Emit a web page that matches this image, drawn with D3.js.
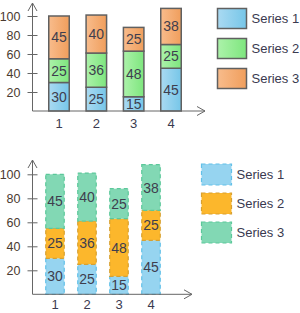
<!DOCTYPE html>
<html>
<head>
<meta charset="utf-8">
<script src="https://cdn.jsdelivr.net/npm/d3@7"></script>
<style>
  body { margin: 0; background: #fff; }
  text { font-family: "Liberation Sans", Arial, sans-serif; }
</style>
</head>
<body>
<div id="chart"></div>
<script>
// data
var categories = ["1", "2", "3", "4"];
var seriesNames = ["Series 1", "Series 2", "Series 3"];
var series1 = [30, 25, 15, 45];
var series2 = [25, 36, 48, 25];
var series3 = [45, 40, 25, 38];
var yTicks = [20, 40, 60, 80, 100];

var svg = d3.select("#chart").append("svg")
  .attr("width", 300)
  .attr("height", 313);

var defs = svg.append("defs");
function grad(id, c1, c2) {
  var g = defs.append("linearGradient").attr("id", id)
    .attr("x1", "0%").attr("x2", "100%").attr("y1", "0%").attr("y2", "0%");
  g.append("stop").attr("offset", "0%").attr("stop-color", c1);
  g.append("stop").attr("offset", "100%").attr("stop-color", c2);
}
grad("g1", "#aadaf2", "#76c6e8");
grad("g2", "#acf2aa", "#7ee67e");
grad("g3", "#f8bc8c", "#f09e5c");

var rows = categories.map(function(c, i) {
  return { cat: c, s1: series1[i], s2: series2[i], s3: series3[i] };
});
var stack = d3.stack().keys(["s1", "s2", "s3"])(rows);

// draws one of the two charts
function drawChart(opt) {
  var g = svg.append("g");
  var x = d3.scalePoint().domain(categories).range(opt.xRange);
  var y = d3.scaleLinear().domain([0, 100]).range(opt.yRange);

  // bars
  stack.forEach(function(layer, k) {
    g.selectAll(null).data(layer).enter().append("rect")
      .attr("x", function(d) { return x(d.data.cat) - opt.barW / 2; })
      .attr("y", function(d) { return y(d[1]); })
      .attr("width", opt.barW)
      .attr("height", function(d) { return y(d[0]) - y(d[1]); })
      .attr("fill", opt.fills[k])
      .attr("stroke", opt.strokes[k])
      .attr("stroke-width", opt.strokeW)
      .attr("stroke-dasharray", opt.dash);
    g.selectAll(null).data(layer).enter().append("text")
      .attr("x", function(d) { return x(d.data.cat); })
      .attr("y", function(d) { return (y(d[0]) + y(d[1])) / 2; })
      .attr("dy", "0.36em")
      .attr("text-anchor", "middle")
      .attr("font-size", 14)
      .attr("fill", "#3e3e4e")
      .text(function(d) { return d[1] - d[0]; });
  });

  // y axis
  var yAxis = d3.axisLeft(y).tickValues(yTicks).tickSize(5).tickPadding(7);
  var ya = g.append("g").attr("transform", "translate(" + opt.axisX + ",0)").call(yAxis);
  ya.select(".domain").remove();
  ya.selectAll(".tick line").attr("x1", 5).attr("x2", -5).attr("stroke", "#666");
  ya.selectAll(".tick text").attr("font-size", 12.5).attr("fill", "#4a3a30")
    .attr("font-family", "Liberation Sans, Arial, sans-serif");

  g.append("line").attr("x1", opt.axisX).attr("x2", opt.axisX)
    .attr("y1", opt.yTop).attr("y2", y(0)).attr("stroke", "#666");
  g.append("path")
    .attr("d", "M" + (opt.axisX - 4.5) + "," + (opt.yTop + 8) + "L" + opt.axisX + "," + opt.yTop + "L" + (opt.axisX + 4.5) + "," + (opt.yTop + 8))
    .attr("fill", "none").attr("stroke", "#666");

  // x axis
  g.append("line").attr("x1", opt.axisX).attr("x2", opt.xEnd)
    .attr("y1", y(0)).attr("y2", y(0)).attr("stroke", "#666");
  g.append("path")
    .attr("d", "M" + (opt.xEnd - 8) + "," + (y(0) - 4.5) + "L" + opt.xEnd + "," + y(0) + "L" + (opt.xEnd - 8) + "," + (y(0) + 4.5))
    .attr("fill", "none").attr("stroke", "#666");
  g.selectAll(null).data(categories).enter().append("text")
    .attr("x", function(d) { return x(d); })
    .attr("y", y(0) + opt.xLabelDy)
    .attr("text-anchor", "middle")
    .attr("font-size", 13)
    .attr("fill", "#3a3a50")
    .text(function(d) { return d; });

  // legend
  seriesNames.forEach(function(name, k) {
    var ly = opt.legY + k * opt.legStep;
    g.append("rect").attr("x", opt.legX).attr("y", ly)
      .attr("width", opt.legW).attr("height", opt.legH)
      .attr("fill", opt.fills[k]).attr("stroke", opt.strokes[k])
      .attr("stroke-width", opt.strokeW).attr("stroke-dasharray", opt.dash);
    g.append("text").attr("x", opt.legX + opt.legW + 5).attr("y", ly + opt.legH / 2)
      .attr("dy", "0.36em").attr("font-size", 13).attr("fill", "#3a3a50")
      .text(name);
  });
}

drawChart({
  xRange: [59, 171], yRange: [111, 16], barW: 20.5,
  fills: ["url(#g1)", "url(#g2)", "url(#g3)"],
  strokes: ["#606060", "#606060", "#606060"], strokeW: 1.5, dash: null,
  axisX: 32.5, yTop: 3, xEnd: 205, xLabelDy: 17,
  legX: 217.5, legY: 8.5, legStep: 30, legW: 29, legH: 20
});

drawChart({
  xRange: [55, 151], yRange: [294.3, 174.3], barW: 18.5,
  fills: ["#96d4f0", "#fcb72c", "#82d8b4"],
  strokes: ["#62c0e8", "#d8a030", "#5cc89a"], strokeW: 1.2, dash: "4,3",
  axisX: 32.5, yTop: 160, xEnd: 192, xLabelDy: 15,
  legX: 201.5, legY: 164, legStep: 29, legW: 30, legH: 21
});
</script>
</body>
</html>
